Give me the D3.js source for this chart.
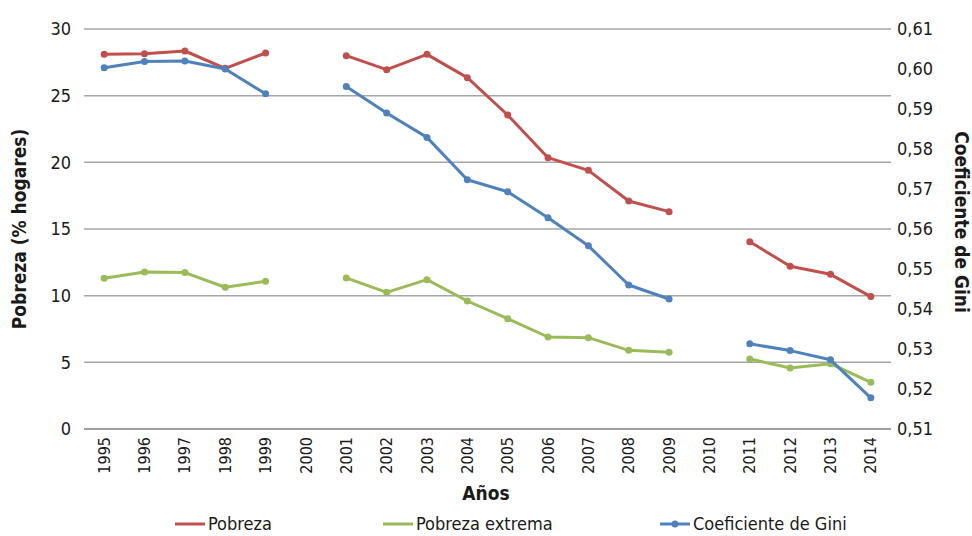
<!DOCTYPE html>
<html><head><meta charset="utf-8">
<script src="https://cdn.jsdelivr.net/npm/d3@7"></script>
<style>
body{margin:0;background:#fff;}
text{font-family:"DejaVu Sans Condensed","Liberation Sans Narrow","DejaVu Sans",sans-serif;font-stretch:condensed;fill:#1a1a1a;}
</style></head>
<body><svg id="c" width="972" height="536"></svg>
<script>
const years = ["1995","1996","1997","1998","1999","2000","2001","2002","2003","2004","2005","2006","2007","2008","2009","2010","2011","2012","2013","2014"];
const pobreza = [28.1,28.15,28.35,27.05,28.2,null,28.0,26.95,28.1,26.35,23.55,20.35,19.4,17.1,16.3,null,14.05,12.2,11.6,9.93];
const pobrezaExtrema = [11.3,11.78,11.73,10.63,11.08,null,11.33,10.25,11.2,9.6,8.27,6.9,6.85,5.9,5.75,null,5.25,4.58,4.9,3.5];
const gini = [0.6003,0.6019,0.602,0.600,0.5938,null,0.5956,0.589,0.5829,0.5723,0.5693,0.5628,0.5558,0.546,0.5425,null,0.5313,0.5296,0.5273,0.5178];
const leftTicks = [0,5,10,15,20,25,30];
const rightTicks = [0.51,0.52,0.53,0.54,0.55,0.56,0.57,0.58,0.59,0.60,0.61];

const svg = d3.select("#c");
const L = 84, R = 891, T = 29, B = 429;
const x = d3.scaleBand().domain(years).range([L, R]);
const yL = d3.scaleLinear().domain([0,30]).range([B,T]);
const yR = d3.scaleLinear().domain([0.51,0.61]).range([B,T]);
const cx = d => x(d) + x.bandwidth()/2;

// gridlines
svg.append("g").selectAll("line").data(leftTicks.filter(d=>d>0)).join("line")
  .attr("x1",L).attr("x2",R).attr("y1",d=>yL(d)).attr("y2",d=>yL(d))
  .attr("stroke","#a6a6a6").attr("stroke-width",1.5);
svg.append("line").attr("x1",L).attr("x2",R).attr("y1",yL(0)).attr("y2",yL(0))
  .attr("stroke","#7f7f7f").attr("stroke-width",1.5);

// left axis labels
const axL = svg.append("g").attr("transform",`translate(${L},0)`)
  .call(d3.axisLeft(yL).tickValues(leftTicks).tickSize(0).tickPadding(13).tickFormat(d3.format("d")));
axL.select(".domain").remove();
axL.selectAll("text").attr("font-size",18).attr("fill","#1a1a1a");

const fmtR = d => d3.format(".2f")(d).replace(".",",");
const axR = svg.append("g").attr("transform",`translate(${R},0)`)
  .call(d3.axisRight(yR).tickValues(rightTicks).tickSize(0).tickPadding(6).tickFormat(fmtR));
axR.select(".domain").remove();
axR.selectAll("text").attr("font-size",18).attr("fill","#1a1a1a");

// x axis labels
const axX = svg.append("g").attr("transform",`translate(0,${B})`)
  .call(d3.axisBottom(x).tickSize(0).tickPadding(0));
axX.select(".domain").remove();
axX.selectAll("text").attr("font-size",16).attr("fill","#1a1a1a")
  .attr("text-anchor","end").attr("dy","0.35em")
  .attr("transform","translate(0,8) rotate(-90)");

// titles
svg.append("text").attr("x",486).attr("y",500).attr("text-anchor","middle")
  .attr("font-size",19).attr("font-weight","bold").text("Años");
svg.append("text").attr("transform","translate(26,229) rotate(-90)").attr("text-anchor","middle")
  .attr("font-size",19).attr("font-weight","bold").text("Pobreza (% hogares)");
svg.append("text").attr("transform","translate(955,222) rotate(90)").attr("text-anchor","middle")
  .attr("font-size",19).attr("font-weight","bold").text("Coeficiente de Gini");

// series
const series = [
  {name:"Pobreza", vals:pobreza, y:yL, color:"#C0504D", legMarker:false, lx:175},
  {name:"Pobreza extrema", vals:pobrezaExtrema, y:yL, color:"#9BBB59", legMarker:false, lx:383},
  {name:"Coeficiente de Gini", vals:gini, y:yR, color:"#4F81BD", legMarker:true, lx:660}
];
series.forEach(s=>{
  const pts = years.map((yr,i)=>({yr, v:s.vals[i]}));
  const line = d3.line().defined(d=>d.v!=null).x(d=>cx(d.yr)).y(d=>s.y(d.v));
  svg.append("path").datum(pts).attr("d",line).attr("fill","none")
    .attr("stroke",s.color).attr("stroke-width",3).attr("stroke-linejoin","round");
  svg.append("g").selectAll("circle").data(pts.filter(d=>d.v!=null)).join("circle")
    .attr("cx",d=>cx(d.yr)).attr("cy",d=>s.y(d.v)).attr("r",3.5).attr("fill",s.color);
  const ly = 524;
  svg.append("line").attr("x1",s.lx).attr("x2",s.lx+30).attr("y1",ly).attr("y2",ly)
    .attr("stroke",s.color).attr("stroke-width",3);
  if(s.legMarker) svg.append("circle").attr("cx",s.lx+15).attr("cy",ly).attr("r",3.5).attr("fill",s.color);
  svg.append("text").attr("x",s.lx+33).attr("y",ly).attr("dy","0.35em")
    .attr("font-size",18).text(s.name);
});
</script></body></html>
